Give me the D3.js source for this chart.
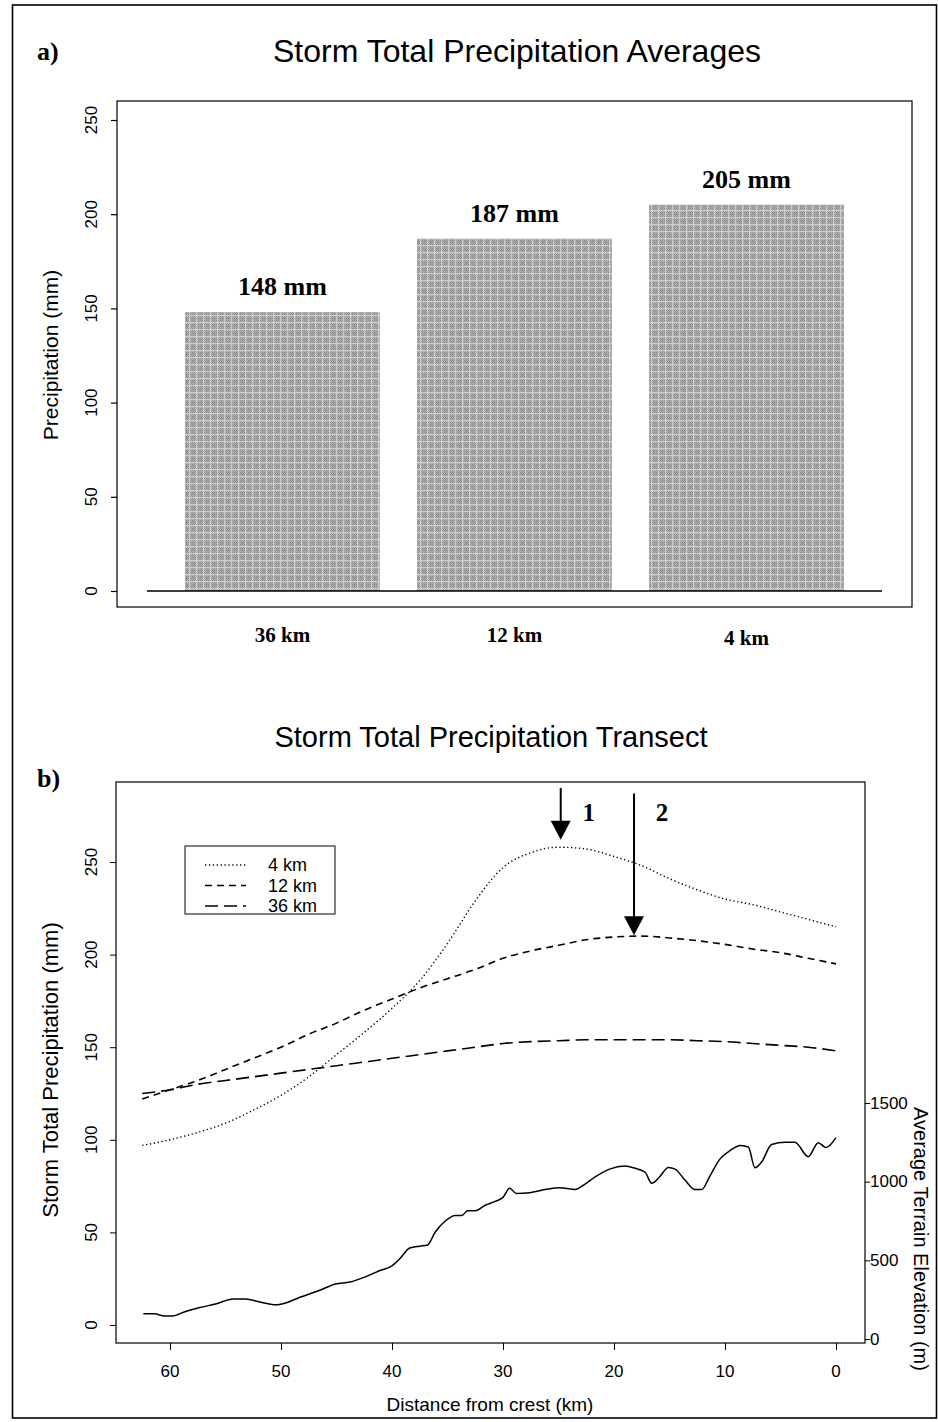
<!DOCTYPE html>
<html lang="en">
<head>
    <meta charset="UTF-8">
    <title>Storm Total Precipitation</title>
    <script src="https://d3js.org/d3.v7.min.js"></script>
    <style>
        body {
            margin: 0;
            background: #ffffff;
        }
        svg text {
            fill: #000;
        }
        .sans { font-family: 'Liberation Sans', Arial, sans-serif; }
        .serif { font-family: 'Liberation Serif', 'Times New Roman', serif; font-weight: bold; }
    </style>
</head>
<body>
    <div id="chart"></div>

    <script>
        // ---- panel a data ----
        const barCats = ["36 km", "12 km", "4 km"];
        const barVals = [148, 187, 205];
        const barLabels = ["148 mm", "187 mm", "205 mm"];
        const yTicksA = [0, 50, 100, 150, 200, 250];

        // ---- panel b data ----
        const precipKm = [62.5, 60, 57.5, 55, 52.5, 50, 47.5, 45, 42.5, 40, 37.5, 35, 32.5,
                          30, 27.5, 25, 22.5, 20, 17.5, 15, 12.5, 10, 7.5, 5, 2.5, 0];
        const precip4 = [97, 100, 104, 109, 116, 124, 134, 146, 158, 171, 186, 206, 229,
                         247, 255, 258, 257, 253, 248, 241, 235, 230, 227, 223, 219, 215];
        const precip12 = [122, 127, 132, 138, 144, 150, 157, 163, 170, 176, 182, 187, 192,
                          198, 202, 205, 208, 209.5, 210, 209, 207.5, 205.5, 203, 201, 198, 195];
        const precip36 = [125, 127, 130, 132, 134, 136, 138, 140, 142, 144, 146, 148, 150,
                          152, 153, 153.5, 154, 154, 154, 154, 153.5, 153, 152, 151, 150, 148];

        const terrainKm = [62.4, 61.4, 60.5, 59.8, 58.6, 57.3, 55.9, 54.3, 53.2, 51.9, 50.5, 49.6,
                           48.3, 46.5, 45.1, 43.8, 42.4, 41.1, 40.0, 39.3, 38.4, 37.5, 36.8, 36.1,
                           35.2, 34.3, 33.7, 33.2, 32.5, 31.6, 30.7, 30.0, 29.4, 28.8, 27.6, 26.2,
                           24.9, 23.5, 22.6, 21.7, 20.4, 19.0, 18.1, 17.2, 16.6, 15.9, 15.1, 14.5,
                           13.6, 12.7, 12.1, 11.4, 10.5, 9.5, 8.6, 7.9, 7.3, 6.7, 5.8, 4.6, 3.7,
                           2.5, 1.6, 0.9, 0];
        const terrainM = [160, 160, 146, 146, 175, 200, 222, 255, 255, 235, 217, 229,
                          265, 310, 350, 362, 395, 435, 465, 510, 578, 590, 598, 680,
                          750, 785, 785, 815, 815, 850, 875, 900, 958, 925, 930, 950,
                          962, 950, 985, 1030, 1080, 1100, 1085, 1060, 990, 1030, 1090, 1080,
                          1010, 950, 950, 1030, 1140, 1200, 1230, 1220, 1089, 1125, 1236, 1250, 1250,
                          1159, 1248, 1217, 1280];

        const xTicksB = [60, 50, 40, 30, 20, 10, 0];
        const yTicksB = [0, 50, 100, 150, 200, 250];
        const elevTicks = [0, 500, 1000, 1500];

        const legendNames = ["4 km", "12 km", "36 km"];
        const arrowKm = [24.8, 18.2];
        const arrowTop = [290, 287];
        const arrowTip = [262, 210.5];
        const arrowNames = ["1", "2"];

        const W = 938, H = 1422;
        const svg = d3.select("#chart").append("svg")
            .attr("width", W).attr("height", H);

        // bar texture: dithered grey with a lighter mesh
        const defs = svg.append("defs");
        const dither = defs.append("pattern").attr("id", "dither")
            .attr("width", 2).attr("height", 2).attr("patternUnits", "userSpaceOnUse");
        dither.append("rect").attr("width", 2).attr("height", 2).attr("fill", "#b0b0b0");
        dither.append("rect").attr("width", 1).attr("height", 1).attr("fill", "#858585");
        dither.append("rect").attr("x", 1).attr("y", 1).attr("width", 1).attr("height", 1).attr("fill", "#949494");
        const mesh = defs.append("pattern").attr("id", "mesh")
            .attr("width", 7).attr("height", 7).attr("patternUnits", "userSpaceOnUse");
        mesh.append("rect").attr("x", 0).attr("y", 0).attr("width", 7).attr("height", 1.3).attr("fill", "#dcdcdc");
        mesh.append("rect").attr("x", 0).attr("y", 0).attr("width", 1.3).attr("height", 7).attr("fill", "#dcdcdc");

        // outer frame
        svg.append("rect")
            .attr("x", 12.5).attr("y", 5).attr("width", 924).attr("height", 1413)
            .attr("fill", "none").attr("stroke", "#000").attr("stroke-width", 1.6);

        // =================== panel a ===================
        const boxA = { x0: 117, x1: 912, y0: 101, y1: 607 };
        const yA = d3.scaleLinear().domain([0, 250]).range([591, 120]);
        const xA = d3.scaleBand().domain(barCats).range([147, 882])
            .paddingInner(0.16).paddingOuter(0.164);

        svg.append("text").attr("class", "serif")
            .attr("x", 37).attr("y", 60).attr("font-size", 26).text("a)");
        svg.append("text").attr("class", "sans")
            .attr("x", 517).attr("y", 62).attr("text-anchor", "middle")
            .attr("font-size", 32).text("Storm Total Precipitation Averages");

        svg.append("rect")
            .attr("x", boxA.x0).attr("y", boxA.y0)
            .attr("width", boxA.x1 - boxA.x0).attr("height", boxA.y1 - boxA.y0)
            .attr("fill", "none").attr("stroke", "#000").attr("stroke-width", 1.2);

        const bars = svg.append("g");
        bars.selectAll("rect.base").data(barVals).enter().append("rect")
            .attr("x", (d, i) => xA(barCats[i])).attr("width", xA.bandwidth())
            .attr("y", d => yA(d)).attr("height", d => yA(0) - yA(d))
            .attr("fill", "url(#dither)");
        bars.selectAll("rect.mesh").data(barVals).enter().append("rect")
            .attr("x", (d, i) => xA(barCats[i])).attr("width", xA.bandwidth())
            .attr("y", d => yA(d)).attr("height", d => yA(0) - yA(d))
            .attr("fill", "url(#mesh)").attr("opacity", 0.75);

        svg.append("line")
            .attr("x1", xA.range()[0]).attr("x2", xA.range()[1])
            .attr("y1", yA(0)).attr("y2", yA(0))
            .attr("stroke", "#000").attr("stroke-width", 1.6);

        svg.selectAll("text.vlab").data(barVals).enter().append("text")
            .attr("class", "serif")
            .attr("x", (d, i) => xA(barCats[i]) + xA.bandwidth() / 2)
            .attr("y", d => yA(d) - 17)
            .attr("text-anchor", "middle").attr("font-size", 26)
            .text((d, i) => barLabels[i]);

        svg.selectAll("text.clab").data(barCats).enter().append("text")
            .attr("class", "serif")
            .attr("x", d => xA(d) + xA.bandwidth() / 2)
            .attr("y", (d, i) => 642 + (i === 2 ? 3 : 0))
            .attr("text-anchor", "middle").attr("font-size", 21)
            .text(d => d);

        // y axis a
        const axA = svg.append("g").attr("transform", `translate(${boxA.x0},0)`)
            .call(d3.axisLeft(yA).tickValues(yTicksA).tickSize(6).tickFormat(""));
        axA.select(".domain").remove();
        axA.selectAll("line").attr("stroke-width", 1.2);
        svg.selectAll("text.tya").data(yTicksA).enter().append("text")
            .attr("class", "sans").attr("font-size", 17)
            .attr("text-anchor", "middle").attr("dominant-baseline", "central")
            .attr("transform", d => `translate(91,${yA(d)}) rotate(-90)`)
            .text(d => d);
        svg.append("text").attr("class", "sans").attr("font-size", 21)
            .attr("text-anchor", "middle")
            .attr("transform", `translate(58,355) rotate(-90)`)
            .text("Precipitation (mm)");

        // =================== panel b ===================
        const boxB = { x0: 116, x1: 865, y0: 782, y1: 1343 };
        const xB = d3.scaleLinear().domain([60, 0]).range([170, 836]);
        const yB = d3.scaleLinear().domain([0, 250]).range([1325, 862]);
        const yE = d3.scaleLinear().domain([0, 1500]).range([1339, 1103]);

        svg.append("text").attr("class", "serif")
            .attr("x", 37).attr("y", 787).attr("font-size", 26).text("b)");
        svg.append("text").attr("class", "sans")
            .attr("x", 491).attr("y", 747).attr("text-anchor", "middle")
            .attr("font-size", 29).text("Storm Total Precipitation Transect");

        svg.append("rect")
            .attr("x", boxB.x0).attr("y", boxB.y0)
            .attr("width", boxB.x1 - boxB.x0).attr("height", boxB.y1 - boxB.y0)
            .attr("fill", "none").attr("stroke", "#000").attr("stroke-width", 1.2);

        const series = [
            { name: "4 km", vals: precip4, dash: "1.3,2.6", w: 1.4 },
            { name: "12 km", vals: precip12, dash: "7,5", w: 1.6 },
            { name: "36 km", vals: precip36, dash: "13,6", w: 1.6 }
        ];
        const lineP = d3.line().curve(d3.curveMonotoneX)
            .x(d => xB(d[0])).y(d => yB(d[1]));
        svg.selectAll("path.prec").data(series).enter().append("path")
            .attr("d", s => lineP(precipKm.map((k, i) => [k, s.vals[i]])))
            .attr("fill", "none").attr("stroke", "#000")
            .attr("stroke-width", s => s.w).attr("stroke-dasharray", s => s.dash);

        const lineT = d3.line().curve(d3.curveMonotoneX)
            .x(d => xB(d[0])).y(d => yE(d[1]));
        svg.append("path")
            .attr("d", lineT(terrainKm.map((k, i) => [k, terrainM[i]])))
            .attr("fill", "none").attr("stroke", "#000").attr("stroke-width", 1.5);

        // axes b
        const axBx = svg.append("g").attr("transform", `translate(0,${boxB.y1})`)
            .call(d3.axisBottom(xB).tickValues(xTicksB).tickSize(7).tickFormat(""));
        axBx.select(".domain").remove();
        svg.selectAll("text.txb").data(xTicksB).enter().append("text")
            .attr("class", "sans").attr("font-size", 17)
            .attr("x", d => xB(d)).attr("y", 1377).attr("text-anchor", "middle")
            .text(d => d);
        svg.append("text").attr("class", "sans").attr("font-size", 19)
            .attr("x", 490).attr("y", 1411).attr("text-anchor", "middle")
            .text("Distance from crest (km)");

        const axBy = svg.append("g").attr("transform", `translate(${boxB.x0},0)`)
            .call(d3.axisLeft(yB).tickValues(yTicksB).tickSize(6).tickFormat(""));
        axBy.select(".domain").remove();
        svg.selectAll("text.tyb").data(yTicksB).enter().append("text")
            .attr("class", "sans").attr("font-size", 17)
            .attr("text-anchor", "middle").attr("dominant-baseline", "central")
            .attr("transform", d => `translate(91,${yB(d)}) rotate(-90)`)
            .text(d => d);
        svg.append("text").attr("class", "sans").attr("font-size", 22)
            .attr("text-anchor", "middle")
            .attr("transform", `translate(58,1070) rotate(-90)`)
            .text("Storm Total Precipitation (mm)");

        const axE = svg.append("g").attr("transform", `translate(${boxB.x1},0)`)
            .call(d3.axisRight(yE).tickValues(elevTicks).tickSize(5).tickFormat(""));
        axE.select(".domain").remove();
        svg.selectAll("text.tye").data(elevTicks).enter().append("text")
            .attr("class", "sans").attr("font-size", 17)
            .attr("x", 870).attr("y", d => yE(d)).attr("dominant-baseline", "central")
            .text(d => d);
        svg.append("text").attr("class", "sans").attr("font-size", 20)
            .attr("text-anchor", "middle")
            .attr("transform", `translate(914,1239) rotate(90)`)
            .text("Average Terrain Elevation (m)");

        // legend
        const leg = svg.append("g").attr("transform", "translate(185,846)");
        leg.append("rect").attr("width", 150).attr("height", 68)
            .attr("fill", "#fff").attr("stroke", "#000").attr("stroke-width", 1);
        legendNames.forEach((n, i) => {
            const s = series[i];
            leg.append("line").attr("x1", 20).attr("x2", 61)
                .attr("y1", 19 + i * 20.5).attr("y2", 19 + i * 20.5)
                .attr("stroke", "#000").attr("stroke-width", s.w)
                .attr("stroke-dasharray", s.dash);
            leg.append("text").attr("class", "sans").attr("font-size", 18)
                .attr("x", 83).attr("y", 19 + i * 20.5).attr("dominant-baseline", "central")
                .text(n);
        });

        // arrows
        arrowKm.forEach((k, i) => {
            const x = xB(k), y0 = yB(arrowTop[i]), y1 = yB(arrowTip[i]);
            svg.append("line").attr("x1", x).attr("x2", x)
                .attr("y1", y0).attr("y2", y1 - 14)
                .attr("stroke", "#000").attr("stroke-width", 2);
            svg.append("path")
                .attr("d", `M${x - 10},${y1 - 19} L${x + 10},${y1 - 19} L${x},${y1} Z`)
                .attr("fill", "#000");
            svg.append("text").attr("class", "serif").attr("font-size", 25)
                .attr("x", x + 28).attr("y", 821).attr("text-anchor", "middle")
                .text(arrowNames[i]);
        });
    </script>
</body>
</html>
